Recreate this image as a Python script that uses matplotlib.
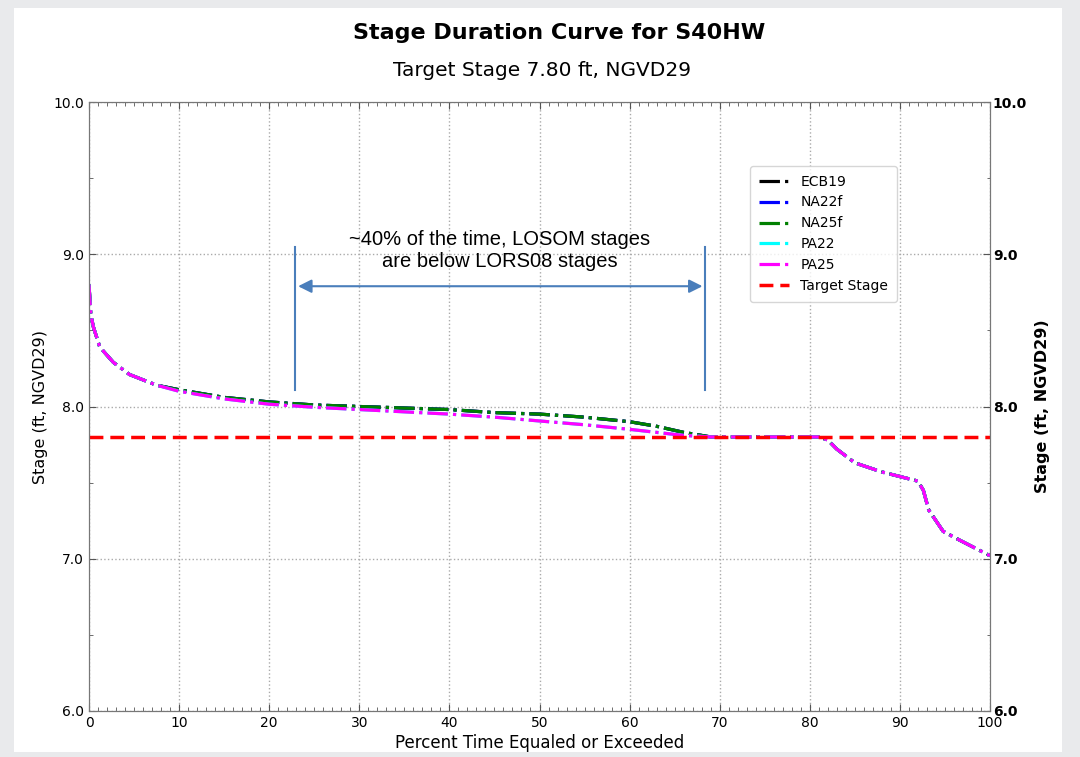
import matplotlib
matplotlib.use("Agg")
import matplotlib.pyplot as plt
from matplotlib.patches import Rectangle
from matplotlib.ticker import MultipleLocator, FormatStrFormatter

# ---------------- data ----------------
pct = [0, 0.2, 0.5, 1.2, 2.7, 4.5, 7.5, 10, 15, 20, 25, 30, 35, 40, 45, 50, 55, 60,
       63, 66, 69, 72, 75, 78, 81, 82, 83, 85, 88, 90, 92, 92.6, 93.2, 94.8, 96.7, 100]
ecb19 = [8.80, 8.60, 8.52, 8.39, 8.29, 8.21, 8.14, 8.11, 8.06, 8.03, 8.01, 8.00, 7.99, 7.98, 7.96,
         7.95, 7.93, 7.90, 7.87, 7.83, 7.80, 7.80, 7.80, 7.80, 7.80, 7.78, 7.72, 7.63, 7.57, 7.54,
         7.51, 7.45, 7.32, 7.18, 7.12, 7.02]
na22f = list(ecb19)
na25f = list(ecb19)
pa22 = [8.80, 8.60, 8.52, 8.39, 8.29, 8.21, 8.14, 8.10, 8.05, 8.015, 7.995, 7.98, 7.965, 7.95, 7.93,
        7.905, 7.88, 7.85, 7.83, 7.81, 7.80, 7.80, 7.80, 7.80, 7.80, 7.78, 7.72, 7.63, 7.57, 7.54,
        7.51, 7.45, 7.32, 7.18, 7.12, 7.02]
pa25 = list(pa22)
target = 7.80

series_names = ["ECB19", "NA22f", "NA25f", "PA22", "PA25"]
series_vals = [ecb19, na22f, na25f, pa22, pa25]
series_colors = ["black", "blue", "green", "cyan", "magenta"]

note_text = "~40% of the time, LOSOM stages\nare below LORS08 stages"
note_left, note_right = 22.9, 68.4

# ---------------- figure ----------------
fig = plt.figure(figsize=(10.8, 7.57), dpi=100)
fig.patch.set_facecolor("#e9eaec")
fig.add_artist(Rectangle((14 / 1080, 5 / 757), (1062 - 14) / 1080, (749 - 5) / 757,
                         transform=fig.transFigure, facecolor="white", edgecolor="none", zorder=-10))

ax = fig.add_axes([89 / 1080, 1 - 711 / 757, (990 - 89) / 1080, (711 - 102) / 757])
ax.set_facecolor("white")

for name, vals, col in zip(series_names, series_vals, series_colors):
    ax.plot(pct, vals, linestyle="-.", color=col, lw=2.3, label=name)
ax.axhline(target, color="red", linestyle="--", lw=2.5, label="Target Stage", dashes=(4, 2))

ax.set_xlim(0, 100)
ax.set_ylim(6.0, 10.0)
ax.xaxis.set_major_locator(MultipleLocator(10))
ax.xaxis.set_minor_locator(MultipleLocator(1))
ax.yaxis.set_major_locator(MultipleLocator(1))
ax.yaxis.set_minor_locator(MultipleLocator(0.5))
ax.yaxis.set_major_formatter(FormatStrFormatter("%.1f"))
ax.tick_params(which="both", direction="in", top=True, colors="#555555", labelcolor="black")
ax.tick_params(which="major", length=5, labelsize=10)
ax.tick_params(which="minor", length=3)
ax.grid(True, which="major", linestyle=":", color="#aaaaaa", lw=1)
for s in ax.spines.values():
    s.set_color("#777777")
ax.set_xlabel("Percent Time Equaled or Exceeded", fontsize=12, labelpad=3)
ax.set_ylabel("Stage (ft, NGVD29)", fontsize=11.5, labelpad=4)

ax2 = ax.twinx()
ax2.set_ylim(6.0, 10.0)
ax2.yaxis.set_major_locator(MultipleLocator(1))
ax2.yaxis.set_minor_locator(MultipleLocator(0.5))
ax2.yaxis.set_major_formatter(FormatStrFormatter("%.1f"))
ax2.tick_params(which="both", direction="in", colors="#555555", labelcolor="black")
ax2.tick_params(which="major", length=5, labelsize=10, pad=2)
for lab in ax2.get_yticklabels():
    lab.set_fontweight("bold")
ax2.set_ylabel("Stage (ft, NGVD29)", fontsize=11.5, fontweight="bold", labelpad=6)
for s in ax2.spines.values():
    s.set_color("#777777")

leg = ax.legend(loc="upper right", bbox_to_anchor=(0.904, 0.906), fontsize=10, frameon=True,
                handlelength=2.2, labelspacing=0.5, borderpad=0.6)
leg.get_frame().set_edgecolor("#cccccc")

# annotation
acol = "#4a7ebb"
ax.plot([note_left, note_left], [8.11, 9.05], color=acol, lw=1.5)
ax.plot([note_right, note_right], [8.11, 9.05], color=acol, lw=1.5)
ax.annotate("", xy=(note_left, 8.79), xytext=(note_right, 8.79),
            arrowprops=dict(arrowstyle="<|-|>", color=acol, lw=1.5, mutation_scale=20))
ax.text(45.6, 9.025, note_text, ha="center", va="center", fontsize=14.5,
        family="Liberation Sans", linespacing=1.15)

fig.text(559 / 1080, 1 - 33 / 757, "Stage Duration Curve for S40HW", ha="center", va="center",
         fontsize=16, fontweight="bold")
fig.text(542 / 1080, 1 - 70 / 757, "Target Stage 7.80 ft, NGVD29", ha="center", va="center",
         fontsize=14.5)

fig.savefig("out.png", dpi=100, facecolor=fig.get_facecolor())
